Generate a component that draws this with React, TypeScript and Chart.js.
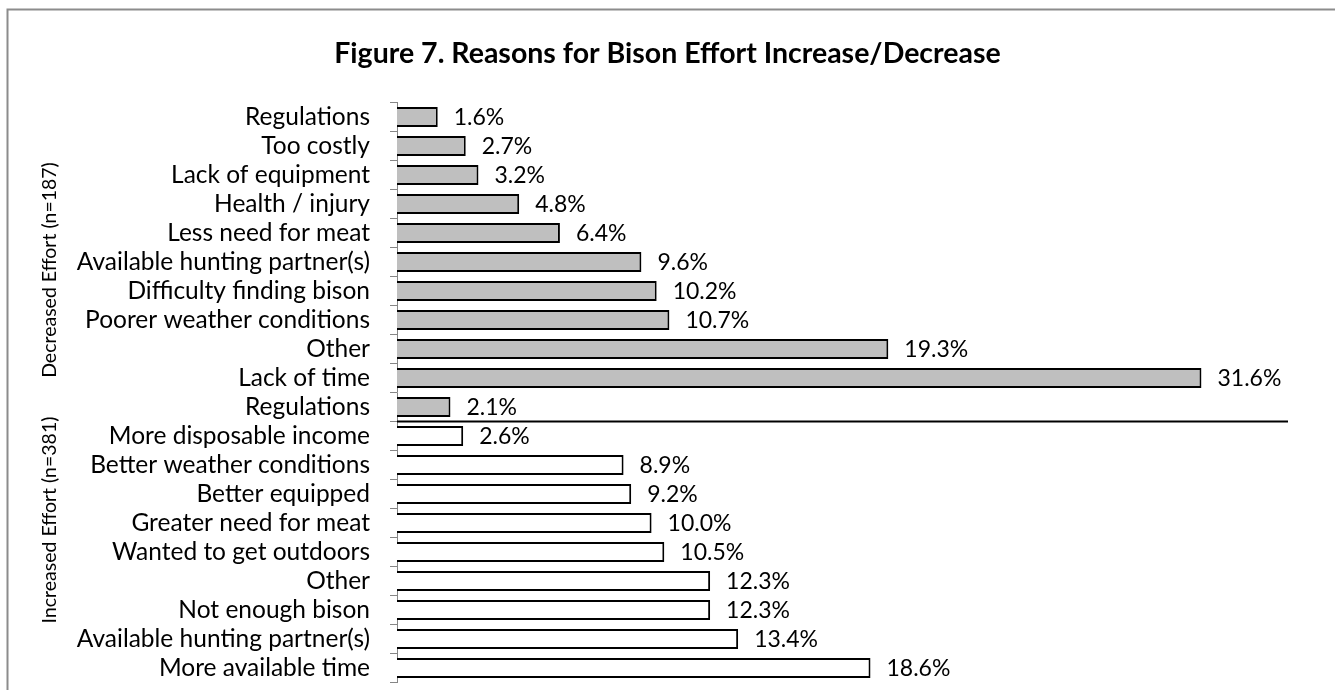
import { useEffect, useRef } from "react";
import { Chart, registerables } from "chart.js";

Chart.register(...registerables);

const titleText = "Figure 7. Reasons for Bison Effort Increase/Decrease";

const decreasedLabels = [
  "Regulations",
  "Too costly",
  "Lack of equipment",
  "Health / injury",
  "Less need for meat",
  "Available hunting partner(s)",
  "Difficulty finding bison",
  "Poorer weather conditions",
  "Other",
  "Lack of time",
  "Regulations",
];
const decreasedValues = [1.6, 2.7, 3.2, 4.8, 6.4, 9.6, 10.2, 10.7, 19.3, 31.6, 2.1];

const increasedLabels = [
  "More disposable income",
  "Better weather conditions",
  "Better equipped",
  "Greater need for meat",
  "Wanted to get outdoors",
  "Other",
  "Not enough bison",
  "Available hunting partner(s)",
  "More available time",
];
const increasedValues = [2.6, 8.9, 9.2, 10.0, 10.5, 12.3, 12.3, 13.4, 18.6];

const groupLabels = ["Decreased Effort (n=187)", "Increased Effort (n=381)"];

const FONT = "Lato, 'Noto Sans', sans-serif";

export default function App() {
  const ref = useRef<HTMLCanvasElement | null>(null);

  useEffect(() => {
    document.body.style.margin = "0";
    const canvas = ref.current;
    if (!canvas) return;

    const labels = [...decreasedLabels, ...increasedLabels];
    const values = [...decreasedValues, ...increasedValues];
    const fills = [
      ...decreasedValues.map(() => "#BFBFBF"),
      ...increasedValues.map(() => "#FFFFFF"),
    ];

    const decorations = {
      id: "decorations",
      beforeDraw(chart: any) {
        const ctx = chart.ctx;
        ctx.save();
        ctx.fillStyle = "#ffffff";
        ctx.fillRect(0, 0, chart.width, chart.height);
        ctx.strokeStyle = "#8c8c8c";
        ctx.lineWidth = 2;
        ctx.beginPath();
        ctx.moveTo(7.5, chart.height);
        ctx.lineTo(7.5, 9.5);
        ctx.lineTo(chart.width, 9.5);
        ctx.stroke();
        ctx.restore();
      },
      afterDatasetsDraw(chart: any) {
        const ctx = chart.ctx;
        const meta = chart.getDatasetMeta(0);
        const y = chart.scales.y;
        const area = chart.chartArea;
        ctx.save();
        // data labels
        ctx.fillStyle = "#000";
        ctx.font = `23px ${FONT}`;
        ctx.textAlign = "left";
        ctx.textBaseline = "middle";
        meta.data.forEach((el: any, i: number) => {
          ctx.fillText(values[i].toFixed(1) + "%", el.x + 16, el.y + 1);
        });
        // separator line between groups
        const sepY =
          (y.getPixelForValue(decreasedLabels.length - 1) +
            y.getPixelForValue(decreasedLabels.length)) /
          2;
        ctx.strokeStyle = "#000";
        ctx.lineWidth = 2;
        ctx.beginPath();
        ctx.moveTo(area.left, sepY);
        ctx.lineTo(area.right, sepY);
        ctx.stroke();
        // title
        ctx.font = `bold 28.5px ${FONT}`;
        ctx.textAlign = "center";
        ctx.textBaseline = "alphabetic";
        ctx.fillText(titleText, chart.width / 2, 63);
        // group labels
        ctx.font = `19.5px ${FONT}`;
        ctx.textAlign = "center";
        ctx.textBaseline = "middle";
        const drawRot = (t: string, x: number, yy: number) => {
          ctx.save();
          ctx.translate(x, yy);
          ctx.rotate(-Math.PI / 2);
          ctx.fillText(t, 0, 0);
          ctx.restore();
        };
        drawRot(groupLabels[0], 50, 270);
        drawRot(groupLabels[1], 50, 520);
        ctx.restore();
      },
    };

    const chart = new Chart(canvas, {
      type: "bar",
      data: {
        labels,
        datasets: [
          {
            data: values,
            backgroundColor: fills,
            borderColor: "#000",
            borderWidth: 2,
            barPercentage: 0.69,
            categoryPercentage: 1,
          },
        ],
      },
      options: {
        indexAxis: "y",
        responsive: false,
        animation: false,
        devicePixelRatio: 1,
        layout: { padding: { top: 102.5, bottom: 7.5, left: 0, right: 47 } },
        plugins: {
          legend: { display: false },
          title: { display: false },
          tooltip: { enabled: false },
        },
        scales: {
          x: {
            display: false,
            min: 0,
            max: 35,
          },
          y: {
            afterFit(scale: any) {
              scale.width = 397;
              scale.paddingTop = 0;
              scale.paddingBottom = 0;
            },
            grid: {
              display: true,
              drawOnChartArea: false,
              drawTicks: true,
              tickLength: 7,
              color: "#868686",
              lineWidth: 1,
              offset: true,
            },
            border: { display: true, color: "#868686", width: 1 },
            ticks: {
              color: "#000",
              padding: 20,
              autoSkip: false,
              font: { family: FONT, size: 24.5 },
            },
          },
        },
      },
      plugins: [decorations],
    });

    return () => chart.destroy();
  }, []);

  return (
    <div style={{ position: "absolute", left: 0, top: 0, width: 1335, height: 690 }}>
      <canvas ref={ref} width={1335} height={690} />
    </div>
  );
}
